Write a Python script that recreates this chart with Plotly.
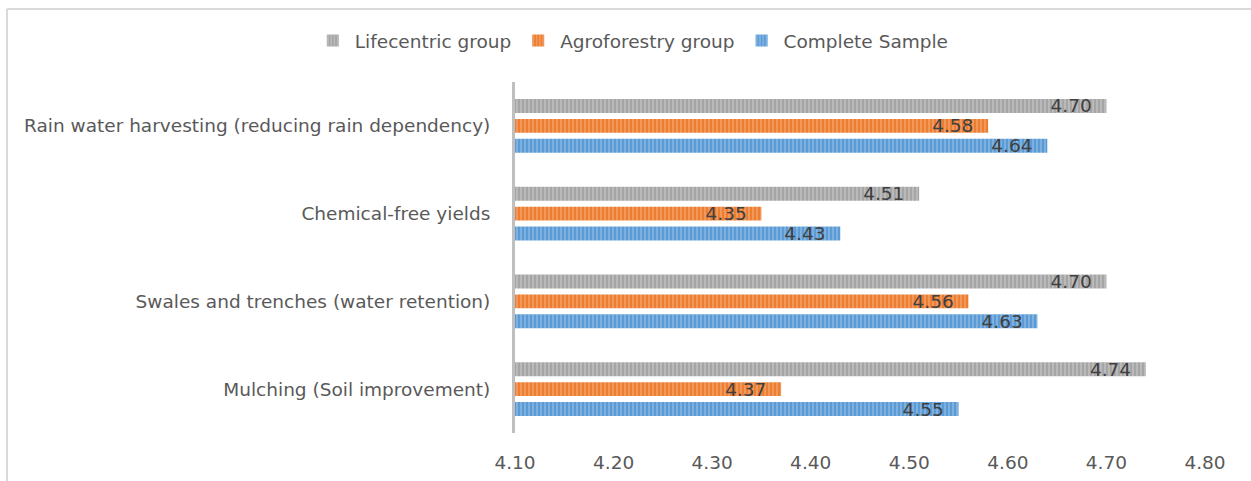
import plotly.graph_objects as go

categories = [
    "Mulching (Soil improvement)",
    "Swales and trenches (water retention)",
    "Chemical-free yields",
    "Rain water harvesting (reducing rain dependency)",
]
complete_sample = [4.55, 4.63, 4.43, 4.64]
agroforestry = [4.37, 4.56, 4.35, 4.58]
lifecentric = [4.74, 4.70, 4.51, 4.70]
x_ticks = [4.10, 4.20, 4.30, 4.40, 4.50, 4.60, 4.70, 4.80]

series = [
    ("Complete Sample", complete_sample, "#5B9BD5", "#A9CBEB"),
    ("Agroforestry group", agroforestry, "#ED7D31", "#F6B88F"),
    ("Lifecentric group", lifecentric, "#A5A5A5", "#D2D2D2"),
]

FONT = "DejaVu Sans"

fig = go.Figure()
for name, vals, base, light in series:
    fig.add_trace(go.Bar(
        y=categories, x=vals, name=name, orientation="h",
        marker=dict(color=base, line=dict(width=0),
                    pattern=dict(shape="|", fgcolor=light, bgcolor=base,
                                 size=4, solidity=0.45)),
        text=[f"{v:.2f}\u00a0\u00a0" for v in vals],
        textposition="inside", insidetextanchor="end",
        textangle=0, constraintext="none",
        textfont=dict(color="#404040", size=18.5, family=FONT),
        cliponaxis=False,
    ))

fig.update_layout(
    width=1251, height=481,
    margin=dict(l=515, r=46, t=82, b=48, autoexpand=False),
    paper_bgcolor="white", plot_bgcolor="white",
    barmode="group", bargap=0.32, bargroupgap=0.3,
    font=dict(family=FONT, color="#595959", size=18.5),
    showlegend=True,
    legend=dict(orientation="h", x=0.17, xanchor="center", y=(433 - 41) / 351,
                yanchor="middle", bgcolor="rgba(0,0,0,0)",
                traceorder="reversed", font=dict(size=18.5, color="#595959", family=FONT),
                itemwidth=34, itemsizing="constant"),
    xaxis=dict(range=[4.10, 4.80], tickvals=x_ticks,
               ticktext=[f"{t:.2f}" for t in x_ticks],
               showgrid=False, zeroline=False, showline=False, automargin=False,
               ticks="", ticklabelstandoff=16,
               tickfont=dict(size=18.5, color="#595959", family=FONT)),
    yaxis=dict(categoryorder="array", categoryarray=categories,
               showgrid=False, zeroline=False, automargin=False,
               showline=True, linecolor="#BFBFBF", linewidth=3,
               ticks="", ticklabelstandoff=18,
               tickfont=dict(size=18.5, color="#595959", family=FONT)),
    shapes=[
        dict(type="line", xref="paper", yref="paper",
             x0=(7 - 515) / 690, x1=(1251 - 515) / 690,
             y0=(433 - 9) / 351, y1=(433 - 9) / 351,
             line=dict(color="#D9D9D9", width=2)),
        dict(type="line", xref="paper", yref="paper",
             x0=(7 - 515) / 690, x1=(7 - 515) / 690,
             y0=(433 - 9) / 351, y1=(433 - 481) / 351,
             line=dict(color="#D9D9D9", width=2)),
    ],
)

fig.write_html("out.html")
